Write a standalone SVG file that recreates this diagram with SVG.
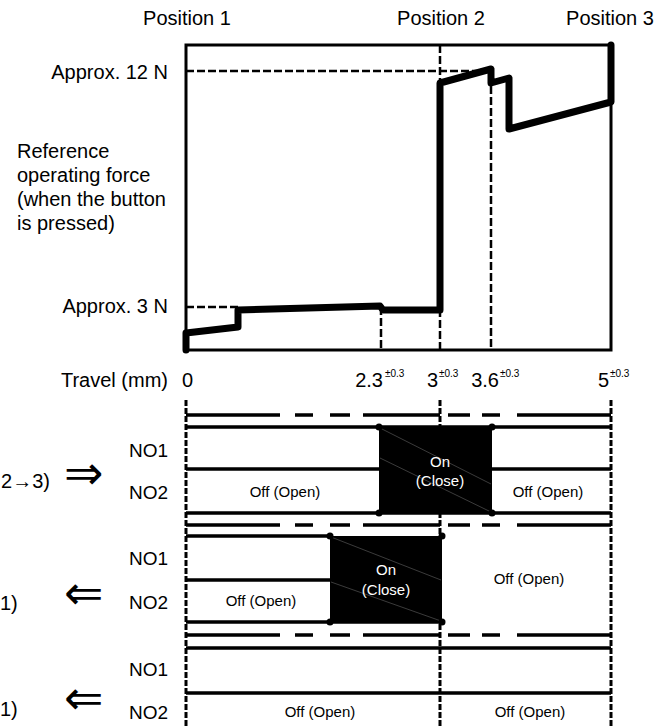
<svg xmlns="http://www.w3.org/2000/svg" width="671" height="727" viewBox="0 0 671 727">
<style>
text{font-family:"Liberation Sans",Arial,sans-serif;fill:#000}
.lbl{font-size:20px}
.no{font-size:19px;text-anchor:end}
.st{font-size:15px;text-anchor:middle}
.on{font-size:15px;text-anchor:middle;fill:#fff}
.sup{font-size:10px}
.thin{stroke:#000;stroke-width:3;fill:none}
.dash{stroke:#000;stroke-width:2.5;fill:none;stroke-dasharray:8 3}
.vdash{stroke:#000;stroke-width:3;fill:none;stroke-dasharray:6 2}
.hl{stroke:#000;stroke-width:3.5;fill:none}
.curve{stroke:#000;stroke-width:7;fill:none;stroke-linejoin:round;stroke-linecap:round}
.diag{stroke:#4a4a4a;stroke-width:0.8}
.arr{font-family:"DejaVu Sans",sans-serif;font-size:47px}
</style>
<rect width="671" height="727" fill="#fff"/>

<g id="labels">
<text class="lbl" x="187" y="25" text-anchor="middle">Position 1</text>
<text class="lbl" x="441" y="25" text-anchor="middle">Position 2</text>
<text class="lbl" x="610" y="25" text-anchor="middle">Position 3</text>
<text class="lbl" x="168" y="79" text-anchor="end">Approx. 12 N</text>
<text class="lbl" x="168" y="313" text-anchor="end">Approx. 3 N</text>
<text class="lbl" x="17" y="158">Reference</text>
<text class="lbl" x="17" y="182">operating force</text>
<text class="lbl" x="17" y="206">(when the button</text>
<text class="lbl" x="17" y="230">is pressed)</text>
<text class="lbl" x="168" y="387" text-anchor="end">Travel (mm)</text>
<text class="lbl" x="182" y="387">0</text>
<text class="lbl" x="383" y="387" text-anchor="end">2.3</text><text class="sup" x="385" y="377">±0.3</text>
<text class="lbl" x="438" y="387" text-anchor="end">3</text><text class="sup" x="439" y="377">±0.3</text>
<text class="lbl" x="499" y="387" text-anchor="end">3.6</text><text class="sup" x="500" y="377">±0.3</text>
<text class="lbl" x="609" y="387" text-anchor="end">5</text><text class="sup" x="610" y="377">±0.3</text>
</g>

<g id="force-chart">
<rect class="thin" x="186" y="45" width="425" height="305"/>
<path class="dash" d="M186,71 H486"/>
<path class="dash" d="M186,307 H238"/>
<path class="dash" d="M440,45 V350"/>
<path class="dash" d="M491,75 V350"/>
<path class="dash" d="M381,307 V350"/>
<path class="curve" d="M186,350 L186,333 L238,327 L238,310 L380,306 L383,310 L440,310 L440,83 L491,69 L491,83 L509,78 L509,129 L611,102 L611,45"/>
</g>

<g id="connectors">
<path class="vdash" d="M186,400 V727"/>
<path class="vdash" d="M440,400 V727"/>
<path class="vdash" d="M611,400 V727"/>
<path class="hl" d="M186,415 H280 M295,415 H313 M330,415 H350 M363,415 H440 M448,415 H470 M482,415 H500 M517,415 H611"/>
<path class="hl" d="M186,415 H280 M295,415 H313 M330,415 H350 M363,415 H440 M448,415 H470 M482,415 H500 M517,415 H611" transform="translate(0,110)"/>
<path class="hl" d="M186,415 H280 M295,415 H313 M330,415 H350 M363,415 H440 M448,415 H470 M482,415 H500 M517,415 H611" transform="translate(0,220)"/>
</g>

<g id="row-press">
<text class="lbl" x="50" y="488" text-anchor="end">2→3)</text>
<text class="arr" x="64" y="489">⇒</text>
<text class="no" x="168" y="457">NO1</text>
<text class="no" x="168" y="499">NO2</text>
<path class="hl" d="M186,427 H611 M186,469 H379 M492,469 H611 M186,513 H611"/>
<rect x="379" y="427" width="113" height="86" fill="#000"/>
<path class="diag" d="M380,428 L491,484 M380,458 L491,512"/>
<circle cx="379" cy="427" r="3.5"/><circle cx="492" cy="427" r="3.5"/><circle cx="379" cy="513" r="3.5"/><circle cx="492" cy="513" r="3.5"/>
<text class="on" x="440" y="467">On</text>
<text class="on" x="440" y="486">(Close)</text>
<text class="st" x="285" y="497">Off (Open)</text>
<text class="st" x="548" y="497">Off (Open)</text>
</g>

<g id="row-release-1">
<text class="lbl" x="0" y="610">1)</text>
<text class="arr" x="64" y="609">⇐</text>
<text class="no" x="168" y="565">NO1</text>
<text class="no" x="168" y="609">NO2</text>
<path class="hl" d="M186,536 H330 M186,580 H330 M186,622 H442"/>
<rect x="330" y="536" width="112" height="86" fill="#000"/>
<path class="diag" d="M331,537 L441,580 M331,582 L441,621"/>
<circle cx="330" cy="536" r="3.5"/><circle cx="442" cy="536" r="3.5"/><circle cx="330" cy="622" r="3.5"/><circle cx="442" cy="622" r="3.5"/>
<text class="on" x="386" y="575">On</text>
<text class="on" x="386" y="595">(Close)</text>
<text class="st" x="261" y="606">Off (Open)</text>
<text class="st" x="529" y="584">Off (Open)</text>
</g>

<g id="row-release-2">
<text class="lbl" x="0" y="716">1)</text>
<text class="arr" x="64" y="714">⇐</text>
<text class="no" x="168" y="676">NO1</text>
<text class="no" x="168" y="719">NO2</text>
<path class="hl" d="M186,648 H611 M186,693 H611"/>
<text class="st" x="320" y="717">Off (Open)</text>
<text class="st" x="530" y="717">Off (Open)</text>
</g>
</svg>
